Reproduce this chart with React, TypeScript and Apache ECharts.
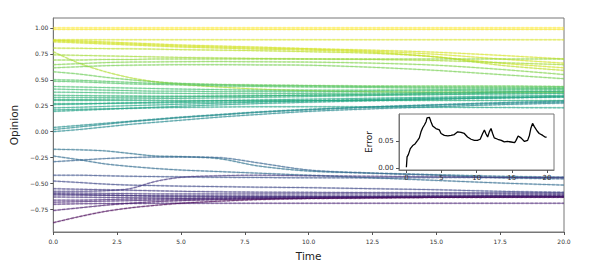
import React, { useEffect, useRef } from "react";
import * as echarts from "echarts";

// Sample times (shared by all opinion trajectories)
const times = [0, 1, 2, 3, 4, 5, 6.5, 8, 10, 12.5, 15, 17.5, 20];

// Upper (yellow / green) trajectories
const upperOpinions: number[][] = [
  [1.0, 1.0, 1.0, 1.0, 1.0, 1.0, 1.0, 1.0, 1.0, 1.0, 1.0, 1.0, 1.0],
  [0.985, 0.985, 0.985, 0.985, 0.985, 0.985, 0.985, 0.985, 0.985, 0.985, 0.985, 0.985, 0.985],
  [0.885, 0.885, 0.885, 0.885, 0.885, 0.885, 0.885, 0.885, 0.885, 0.885, 0.885, 0.885, 0.885],
  [0.88, 0.875, 0.865, 0.855, 0.845, 0.835, 0.825, 0.815, 0.8, 0.785, 0.765, 0.735, 0.7],
  [0.875, 0.865, 0.855, 0.845, 0.835, 0.825, 0.815, 0.805, 0.795, 0.775, 0.745, 0.7, 0.66],
  [0.865, 0.855, 0.845, 0.835, 0.825, 0.815, 0.805, 0.795, 0.785, 0.765, 0.72, 0.66, 0.615],
  [0.805, 0.803, 0.8, 0.798, 0.795, 0.79, 0.785, 0.78, 0.77, 0.755, 0.72, 0.64, 0.59],
  [0.77, 0.66, 0.58, 0.52, 0.48, 0.455, 0.43, 0.41, 0.395, 0.385, 0.38, 0.38, 0.38],
  [0.74, 0.735, 0.73, 0.725, 0.72, 0.715, 0.71, 0.705, 0.7, 0.695, 0.685, 0.665, 0.645],
  [0.69, 0.69, 0.695, 0.695, 0.7, 0.7, 0.7, 0.7, 0.7, 0.7, 0.7, 0.7, 0.7],
  [0.645, 0.655, 0.665, 0.67, 0.672, 0.674, 0.675, 0.673, 0.67, 0.66, 0.64, 0.6, 0.55],
  [0.615, 0.625, 0.635, 0.64, 0.643, 0.645, 0.645, 0.643, 0.64, 0.62, 0.59, 0.55, 0.51],
  [0.577, 0.555, 0.525, 0.5, 0.48, 0.465, 0.455, 0.45, 0.445, 0.44, 0.44, 0.44, 0.435],
];

// Middle (green / teal) trajectories
const middleOpinions: number[][] = [
  [0.5, 0.495, 0.485, 0.475, 0.465, 0.46, 0.45, 0.445, 0.44, 0.435, 0.43, 0.43, 0.43],
  [0.485, 0.48, 0.47, 0.46, 0.455, 0.45, 0.44, 0.435, 0.43, 0.425, 0.42, 0.42, 0.42],
  [0.435, 0.43, 0.425, 0.42, 0.415, 0.41, 0.405, 0.4, 0.4, 0.4, 0.405, 0.41, 0.415],
  [0.41, 0.405, 0.4, 0.395, 0.39, 0.39, 0.385, 0.385, 0.385, 0.39, 0.395, 0.4, 0.405],
  [0.38, 0.378, 0.375, 0.372, 0.37, 0.368, 0.366, 0.366, 0.368, 0.372, 0.378, 0.385, 0.39],
  [0.35, 0.348, 0.346, 0.344, 0.342, 0.342, 0.343, 0.345, 0.35, 0.355, 0.362, 0.37, 0.375],
  [0.33, 0.33, 0.33, 0.332, 0.334, 0.336, 0.34, 0.345, 0.352, 0.36, 0.37, 0.38, 0.388],
  [0.31, 0.31, 0.312, 0.315, 0.318, 0.32, 0.325, 0.33, 0.338, 0.348, 0.356, 0.362, 0.368],
  [0.3, 0.3, 0.3, 0.3, 0.3, 0.3, 0.3, 0.3, 0.3, 0.3, 0.3, 0.3, 0.3],
  [0.27, 0.27, 0.272, 0.274, 0.277, 0.28, 0.285, 0.29, 0.297, 0.305, 0.315, 0.325, 0.333],
  [0.26, 0.265, 0.272, 0.278, 0.284, 0.29, 0.298, 0.305, 0.313, 0.322, 0.332, 0.342, 0.35],
  [0.23, 0.235, 0.243, 0.25, 0.257, 0.264, 0.274, 0.284, 0.296, 0.31, 0.322, 0.332, 0.34],
  [0.21, 0.215, 0.22, 0.225, 0.23, 0.233, 0.237, 0.24, 0.24, 0.238, 0.235, 0.232, 0.23],
  [0.195, 0.205, 0.215, 0.225, 0.235, 0.245, 0.258, 0.27, 0.283, 0.298, 0.312, 0.324, 0.335],
  [0.04, 0.06, 0.08, 0.1, 0.12, 0.14, 0.165, 0.19, 0.215, 0.24, 0.26, 0.28, 0.295],
  [0.02, 0.045, 0.07, 0.095, 0.115, 0.135, 0.16, 0.185, 0.21, 0.235, 0.255, 0.272, 0.285],
  [0.0, 0.02, 0.045, 0.07, 0.09, 0.11, 0.14, 0.165, 0.195, 0.22, 0.24, 0.26, 0.275],
];

// Lower (blue / purple) trajectories
const lowerOpinions: number[][] = [
  [-0.17, -0.175, -0.185, -0.21, -0.235, -0.24, -0.26, -0.33, -0.38, -0.4, -0.415, -0.43, -0.44],
  [-0.29, -0.275, -0.26, -0.25, -0.245, -0.245, -0.25, -0.3, -0.37, -0.4, -0.42, -0.445, -0.455],
  [-0.235, -0.27, -0.31, -0.335, -0.355, -0.37, -0.385, -0.4, -0.42, -0.445, -0.47, -0.495, -0.515],
  [-0.42, -0.42, -0.425, -0.43, -0.433, -0.436, -0.44, -0.442, -0.445, -0.445, -0.443, -0.442, -0.44],
  [-0.476, -0.49, -0.505, -0.515, -0.52, -0.525, -0.53, -0.535, -0.54, -0.55, -0.56, -0.575, -0.585],
  [-0.575, -0.575, -0.57, -0.55, -0.48, -0.44, -0.425, -0.42, -0.425, -0.43, -0.435, -0.44, -0.445],
  [-0.55, -0.555, -0.56, -0.565, -0.57, -0.575, -0.58, -0.583, -0.585, -0.587, -0.588, -0.589, -0.59],
  [-0.59, -0.592, -0.595, -0.597, -0.6, -0.6, -0.6, -0.6, -0.6, -0.6, -0.6, -0.6, -0.6],
  [-0.6, -0.605, -0.61, -0.615, -0.62, -0.622, -0.624, -0.625, -0.626, -0.627, -0.628, -0.63, -0.63],
  [-0.61, -0.612, -0.615, -0.617, -0.62, -0.62, -0.62, -0.62, -0.62, -0.62, -0.62, -0.62, -0.62],
  [-0.63, -0.632, -0.634, -0.636, -0.638, -0.64, -0.64, -0.638, -0.636, -0.632, -0.628, -0.625, -0.622],
  [-0.66, -0.66, -0.655, -0.65, -0.648, -0.645, -0.64, -0.635, -0.63, -0.625, -0.62, -0.615, -0.61],
  [-0.68, -0.675, -0.67, -0.665, -0.66, -0.655, -0.65, -0.645, -0.64, -0.635, -0.63, -0.628, -0.627],
  [-0.7, -0.695, -0.693, -0.692, -0.691, -0.69, -0.69, -0.69, -0.69, -0.69, -0.69, -0.69, -0.69],
  [-0.76, -0.735, -0.71, -0.69, -0.675, -0.665, -0.655, -0.648, -0.64, -0.635, -0.63, -0.628, -0.626],
  [-0.877, -0.82, -0.77, -0.735, -0.71, -0.69, -0.67, -0.655, -0.645, -0.64, -0.635, -0.633, -0.632],
];

// Inset: error over time
const errorTimes = [
  0, 0.1, 0.28, 0.56, 0.9, 1.23, 1.6, 1.84, 2.08, 2.32, 2.56, 2.8, 2.94, 3.27, 3.5, 3.74, 4.2, 4.7,
  4.93, 5.4, 5.9, 6.35, 6.82, 7.3, 7.77, 8.24, 8.7, 9.2, 9.67, 10.1, 10.5, 10.85, 11.1, 11.3, 11.56,
  11.8, 12.04, 12.27, 12.5, 13, 13.5, 13.93, 14.4, 14.9, 15.4, 15.6, 15.9, 16.3, 16.8, 17.25, 17.5,
  17.7, 17.95, 18.2, 18.6, 18.9, 19.4, 19.72, 19.95,
];
const errorValues = [
  0.002, 0.021, 0.025, 0.036, 0.0415, 0.0445, 0.051, 0.0555, 0.0665, 0.074, 0.079, 0.085, 0.092,
  0.093, 0.085, 0.077, 0.0725, 0.07, 0.0635, 0.06, 0.059, 0.06, 0.0615, 0.0665, 0.0655, 0.0635,
  0.057, 0.053, 0.051, 0.051, 0.053, 0.0635, 0.07, 0.0635, 0.057, 0.0665, 0.0725, 0.0635, 0.0555,
  0.053, 0.051, 0.0482, 0.049, 0.048, 0.047, 0.051, 0.059, 0.0555, 0.049, 0.051, 0.06, 0.0725,
  0.082, 0.076, 0.068, 0.0635, 0.06, 0.057, 0.057,
];

const opinionTicks = [-0.75, -0.5, -0.25, 0, 0.25, 0.5, 0.75, 1.0];
const timeTicks = [0, 2.5, 5, 7.5, 10, 12.5, 15, 17.5, 20];
const errorTimeTicks = [0, 5, 10, 15, 20];
const errorTicks = [0, 0.05];

const VIRIDIS = [
  "#440154", "#482475", "#414487", "#355f8d", "#2a788e", "#21918c",
  "#22a884", "#44bf70", "#7ad151", "#bddf26", "#fde725",
];

function hexToRgb(h: string) {
  const n = parseInt(h.slice(1), 16);
  return [(n >> 16) & 255, (n >> 8) & 255, n & 255];
}
function viridis(t: number) {
  const x = Math.max(0, Math.min(1, t)) * (VIRIDIS.length - 1);
  const i = Math.min(VIRIDIS.length - 2, Math.floor(x));
  const f = x - i;
  const a = hexToRgb(VIRIDIS[i]);
  const b = hexToRgb(VIRIDIS[i + 1]);
  const c = a.map((v, k) => Math.round(v + (b[k] - v) * f));
  return `rgb(${c[0]},${c[1]},${c[2]})`;
}

const FONT = "DejaVu Sans";
const fmtSigned = (v: any, d: number) => {
  const n = Number(v);
  return (n < 0 ? "\u2212" : "") + Math.abs(n).toFixed(d);
};

const ERR_X_MIN = -1.05;

export default function App() {
  const ref = useRef<HTMLDivElement>(null);

  useEffect(() => {
    document.body.style.margin = "0";
    if (!ref.current) return;
    const chart = echarts.init(ref.current, undefined, { renderer: "svg" });

    const all = [...upperOpinions, ...middleOpinions, ...lowerOpinions];
    const starts = all.map((s) => s[0]);
    const lo = Math.min(...starts);
    const hi = Math.max(...starts);

    const series: any[] = [];
    all.forEach((vals) => {
      const color = viridis((vals[0] - lo) / (hi - lo));
      const data = times.map((t, i) => [t, vals[i]]);
      series.push({
        type: "line",
        xAxisIndex: 0,
        yAxisIndex: 0,
        data,
        symbol: "none",
        smooth: 0.3,
        silent: true,
        lineStyle: { color, width: 2, opacity: 0.3, type: [3, 1.5] },
        z: 2,
      });
      series.push({
        type: "line",
        xAxisIndex: 0,
        yAxisIndex: 0,
        data,
        symbol: "none",
        smooth: 0.3,
        silent: true,
        lineStyle: { color, width: 0.9, opacity: 0.75 },
        z: 3,
      });
    });

    series.push({
      type: "line",
      xAxisIndex: 1,
      yAxisIndex: 1,
      data: errorTimes.map((t, i) => [t, errorValues[i]]),
      symbol: "none",
      silent: true,
      lineStyle: { color: "#000", width: 1.3 },
      z: 10,
    });

    // Inset y tick labels: labels of near-invisible points on the inset's left edge
    series.push({
      type: "scatter",
      xAxisIndex: 1,
      yAxisIndex: 1,
      data: errorTicks.map((v) => [ERR_X_MIN, v]),
      symbol: "circle",
      symbolSize: 0.5,
      itemStyle: { color: "rgba(255,255,255,0)", opacity: 1 },
      clip: false,
      silent: true,
      z: 50,
      label: {
        show: true,
        position: "left",
        distance: 5,
        opacity: 1,
        fontFamily: FONT,
        fontSize: 7,
        color: "#333",
        formatter: (p: any) => fmtSigned(p.value[1], 2),
      },
      labelLayout: { hideOverlap: false },
    });

    const axisLineStyle = { color: "#777", width: 1 };

    chart.setOption({
      animation: false,
      grid: [
        {
          left: 50, top: 18, width: 514, height: 224,
          show: true, borderColor: "#777", borderWidth: 1, backgroundColor: "#fff",
          containLabel: false, z: 0,
        },
        {
          left: 399, top: 114, width: 155, height: 56,
          show: true, borderColor: "#777", borderWidth: 1, backgroundColor: "#fff",
          containLabel: false, z: 8,
        },
      ],
      xAxis: [
        {
          type: "value", gridIndex: 0, min: 0, max: 20,
          name: "Time", nameLocation: "middle", nameGap: 18,
          nameTextStyle: { fontFamily: FONT, fontSize: 10.5, color: "#222" },
          axisLine: { show: true, onZero: false, lineStyle: axisLineStyle },
          axisTick: { show: true, length: 3, customValues: timeTicks, lineStyle: { color: "#555" } },
          axisLabel: {
            customValues: timeTicks, margin: 6, fontFamily: FONT, fontSize: 6, color: "#333",
            formatter: (v: any) => fmtSigned(v, 1),
          },
          splitLine: { show: false },
        },
        {
          type: "value", gridIndex: 1, min: ERR_X_MIN, max: 21,
          axisLine: { show: true, onZero: false, lineStyle: axisLineStyle },
          axisTick: { show: true, length: 3, customValues: errorTimeTicks, lineStyle: { color: "#555" } },
          axisLabel: {
            customValues: errorTimeTicks, margin: 4, fontFamily: FONT, fontSize: 7, color: "#333",
            formatter: (v: any) => String(Number(v)),
          },
          splitLine: { show: false },
          z: 9,
        },
      ],
      yAxis: [
        {
          type: "value", gridIndex: 0, min: -0.967, max: 1.095,
          name: "Opinion", nameLocation: "middle", nameGap: 22,
          nameTextStyle: { fontFamily: FONT, fontSize: 10.5, color: "#222" },
          axisLine: { show: true, onZero: false, lineStyle: axisLineStyle },
          axisTick: { show: true, length: 3, customValues: opinionTicks, lineStyle: { color: "#555" } },
          axisLabel: {
            customValues: opinionTicks, margin: 5, fontFamily: FONT, fontSize: 6, color: "#333",
            formatter: (v: any) => fmtSigned(v, 2),
          },
          splitLine: { show: false },
        },
        {
          type: "value", gridIndex: 1, min: -0.003, max: 0.099,
          name: "Error", nameLocation: "middle", nameGap: 26,
          nameTextStyle: { fontFamily: FONT, fontSize: 9, color: "#222" },
          axisLine: { show: true, onZero: false, lineStyle: axisLineStyle },
          axisTick: { show: true, length: 3, customValues: errorTicks, lineStyle: { color: "#555" } },
          axisLabel: { show: false },
          splitLine: { show: false },
          z: 9,
        },
      ],
      series,
    });

    return () => chart.dispose();
  }, []);

  return <div ref={ref} style={{ width: 598, height: 266 }} />;
}
